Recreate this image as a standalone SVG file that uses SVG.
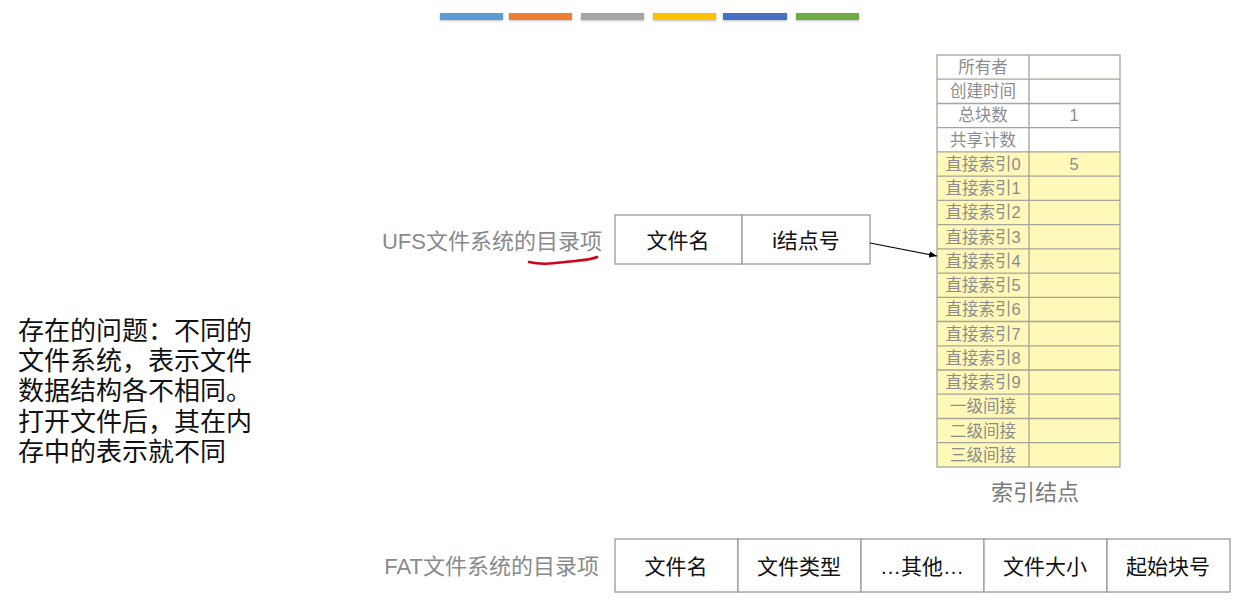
<svg xmlns="http://www.w3.org/2000/svg" width="1240" height="615" viewBox="0 0 1240 615">
  <style>
    .cjk { font-family: "Liberation Sans", "Noto Sans CJK SC", sans-serif; }
    .lbl { font-size: 22px; fill: #8a8a8a; text-anchor: end; }
    .cell { fill: #ffffff; stroke: #9a9a9a; stroke-width: 1.3; }
    .ctext { font-size: 21px; fill: #111; text-anchor: middle; }
    .irow { stroke: #a5a59a; stroke-width: 1.3; }
    .itext { font-size: 16.5px; fill: #8c8c8c; text-anchor: middle; }
    .note { font-family: "Liberation Sans", "Noto Sans CJK SC", sans-serif; font-size: 26px; fill: #111; }
  </style>
  <defs>
    <marker id="arrow" viewBox="0 0 10 10" refX="10" refY="5" markerWidth="8" markerHeight="8" orient="auto" markerUnits="userSpaceOnUse">
      <path d="M0,1 L10,5 L0,9 z" fill="#000"/>
    </marker>
    <filter id="soft" x="-10%" y="-50%" width="120%" height="200%">
      <feDropShadow dx="0" dy="1" stdDeviation="0.8" flood-color="#000" flood-opacity="0.25"/>
    </filter>
  </defs>

  <rect width="1240" height="615" fill="#ffffff"/>

  <!-- colour strip -->
  <g id="colour-strip" filter="url(#soft)">
    <rect x="440" y="13" width="63" height="7" fill="#5b9bd5"/>
    <rect x="509" y="13" width="63" height="7" fill="#ed7d31"/>
    <rect x="581" y="13" width="63" height="7" fill="#a5a5a5"/>
    <rect x="653" y="13" width="63" height="7" fill="#ffc000"/>
    <rect x="723" y="13" width="64" height="7" fill="#4472c4"/>
    <rect x="796" y="13" width="63" height="7" fill="#70ad47"/>
  </g>

  <!-- UFS directory entry -->
  <g id="ufs-entry">
    <text class="cjk lbl" x="602" y="249">UFS文件系统的目录项</text>
    <path d="M529,262 C545,266 560,262 575,261 C586,260 593,259 597,257" fill="none" stroke="#d4001a" stroke-width="2.6" stroke-linecap="round"/>
    <rect class="cell" x="615" y="215" width="127" height="49"/>
    <rect class="cell" x="742" y="215" width="128" height="49"/>
    <text class="cjk ctext" x="678" y="248">文件名</text>
    <text class="cjk ctext" x="806" y="248">i结点号</text>
  </g>

  <!-- index node table -->
  <g id="index-node">
    <rect x="937" y="55" width="183" height="97" fill="#ffffff"/>
    <rect x="937" y="152" width="183" height="315" fill="#fef9b9"/>
    <g class="irow" fill="none">
      <rect x="937" y="55" width="183" height="412"/>
      <line x1="1029" y1="55" x2="1029" y2="467"/>
      <line x1="937" y1="79.2" x2="1120" y2="79.2"/>
      <line x1="937" y1="103.5" x2="1120" y2="103.5"/>
      <line x1="937" y1="127.7" x2="1120" y2="127.7"/>
      <line x1="937" y1="151.9" x2="1120" y2="151.9"/>
      <line x1="937" y1="176.2" x2="1120" y2="176.2"/>
      <line x1="937" y1="200.4" x2="1120" y2="200.4"/>
      <line x1="937" y1="224.6" x2="1120" y2="224.6"/>
      <line x1="937" y1="248.8" x2="1120" y2="248.8"/>
      <line x1="937" y1="273.1" x2="1120" y2="273.1"/>
      <line x1="937" y1="297.3" x2="1120" y2="297.3"/>
      <line x1="937" y1="321.5" x2="1120" y2="321.5"/>
      <line x1="937" y1="345.8" x2="1120" y2="345.8"/>
      <line x1="937" y1="370" x2="1120" y2="370"/>
      <line x1="937" y1="394.2" x2="1120" y2="394.2"/>
      <line x1="937" y1="418.5" x2="1120" y2="418.5"/>
      <line x1="937" y1="442.7" x2="1120" y2="442.7"/>
    </g>
    <g class="cjk itext">
      <text x="983" y="73">所有者</text>
      <text x="983" y="97">创建时间</text>
      <text x="983" y="121">总块数</text>
      <text x="983" y="146">共享计数</text>
      <text x="983" y="170">直接索引0</text>
      <text x="983" y="194">直接索引1</text>
      <text x="983" y="218">直接索引2</text>
      <text x="983" y="243">直接索引3</text>
      <text x="983" y="267">直接索引4</text>
      <text x="983" y="291">直接索引5</text>
      <text x="983" y="315">直接索引6</text>
      <text x="983" y="340">直接索引7</text>
      <text x="983" y="364">直接索引8</text>
      <text x="983" y="388">直接索引9</text>
      <text x="983" y="412">一级间接</text>
      <text x="983" y="437">二级间接</text>
      <text x="983" y="461">三级间接</text>
      <text x="1074" y="121">1</text>
      <text x="1074" y="170">5</text>
    </g>
    <text class="cjk" x="1035" y="500" font-size="22" fill="#7a7a7a" text-anchor="middle">索引结点</text>
  </g>

  <!-- FAT directory entry -->
  <g id="fat-entry">
    <text class="cjk lbl" x="599" y="574">FAT文件系统的目录项</text>
    <rect class="cell" x="615" y="539" width="123" height="53"/>
    <rect class="cell" x="738" y="539" width="123" height="53"/>
    <rect class="cell" x="861" y="539" width="123" height="53"/>
    <rect class="cell" x="984" y="539" width="123" height="53"/>
    <rect class="cell" x="1107" y="539" width="123" height="53"/>
    <text class="cjk ctext" x="676" y="574">文件名</text>
    <text class="cjk ctext" x="799" y="574">文件类型</text>
    <text class="cjk ctext" x="922" y="574">…其他…</text>
    <text class="cjk ctext" x="1045" y="574">文件大小</text>
    <text class="cjk ctext" x="1168" y="574">起始块号</text>
  </g>

  <!-- note -->
  <g id="note" class="note">
    <text x="18" y="340">存在的问题：不同的</text>
    <text x="18" y="370">文件系统，表示文件</text>
    <text x="18" y="400">数据结构各不相同。</text>
    <text x="18" y="431">打开文件后，其在内</text>
    <text x="18" y="461">存中的表示就不同</text>
  </g>

  <!-- connectors -->
  <g id="connectors">
    <line x1="870" y1="243" x2="937" y2="256" stroke="#000" stroke-width="1.2" marker-end="url(#arrow)"/>
  </g>
</svg>
